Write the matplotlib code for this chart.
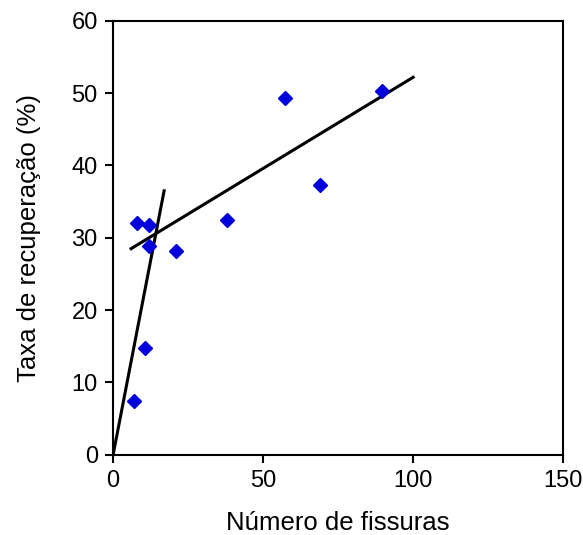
import matplotlib.pyplot as plt

plt.rcParams['font.family'] = ['Liberation Sans', 'DejaVu Sans']

# measured points
fissuras = [8, 12, 12, 21, 38, 57.3, 69, 89.7, 10.7, 7]
recuperacao = [32.1, 31.8, 28.9, 28.2, 32.5, 49.4, 37.3, 50.3, 14.8, 7.5]

# trend lines
steep_x = [0, 17]
steep_y = [0, 36.5]
flat_x = [6, 100]
flat_y = [28.5, 52.2]

fig = plt.figure(figsize=(5.83, 5.35), dpi=100)
ax = fig.add_axes([0.194, 0.150, 0.772, 0.811])

ax.plot(steep_x, steep_y, color='black', lw=2.2)
ax.plot(flat_x, flat_y, color='black', lw=2.2)
ax.plot(fissuras, recuperacao, 'D', color='#0000dd', markersize=7.5, linestyle='none')

ax.set_xlim(0, 150)
ax.set_ylim(0, 60)
ax.set_xticks([0, 50, 100, 150])
ax.set_yticks(range(0, 61, 10))
ax.tick_params(direction='out', length=6, width=1.5, labelsize=17, pad=5)
for s in ax.spines.values():
    s.set_linewidth(1.5)

ax.set_xlabel("Número de fissuras", fontsize=18.5, labelpad=14)
ax.set_ylabel("Taxa de recuperação (%)", fontsize=18.5, labelpad=22)

fig.savefig("out.png", dpi=100)
